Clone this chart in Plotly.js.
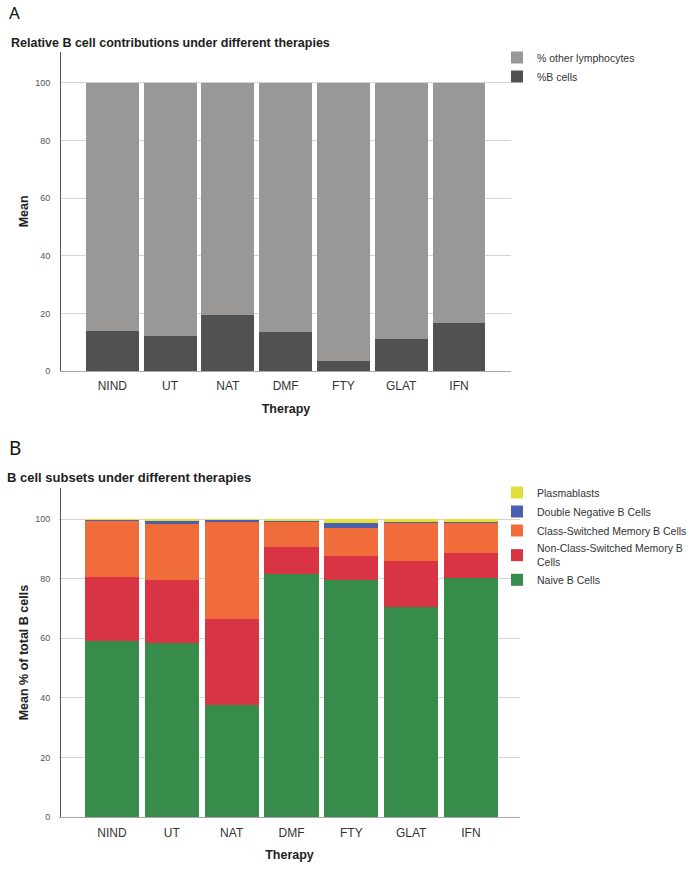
<!DOCTYPE html>
<html>
<head>
<meta charset="utf-8">
<script src="https://cdn.plot.ly/plotly-3.0.1.min.js"></script>
<style>html,body{margin:0;padding:0;background:#fff;}#chart{width:700px;height:872px;}</style>
</head>
<body>
<div id="chart"></div>
<script>
// ---- data ----
const therapies = ['NIND', 'UT', 'NAT', 'DMF', 'FTY', 'GLAT', 'IFN'];
const pctBCells = [13.9, 12.1, 19.5, 13.6, 3.5, 11.0, 16.7];
const pctOtherLymphocytes = [86.1, 87.9, 80.5, 86.4, 96.5, 89.0, 83.3];

const naiveB = [59.2, 58.3, 37.6, 81.5, 79.6, 70.4, 80.2];
const nonClassSwitchedMemB = [21.2, 21.3, 28.9, 9.2, 8.1, 15.6, 8.5];
const classSwitchedMemB = [18.9, 18.8, 32.5, 8.2, 9.4, 12.8, 10.1];
const doubleNegativeB = [0.3, 0.9, 0.8, 0.4, 1.7, 0.3, 0.3];
const plasmablasts = [0.4, 0.7, 0.2, 0.7, 1.2, 0.9, 0.9];

const yTicks = [0, 20, 40, 60, 80, 100];

// ---- traces ----
const FONT = 'Liberation Sans, Arial, sans-serif';
const wTop = 0.915, wBot = 0.905;
const traces = [
  {type: 'bar', name: '%B cells', x: therapies, y: pctBCells, xaxis: 'x', yaxis: 'y',
   marker: {color: '#515151'}, width: wTop, legend: 'legend', hoverinfo: 'y'},
  {type: 'bar', name: '% other lymphocytes', x: therapies, y: pctOtherLymphocytes, xaxis: 'x', yaxis: 'y',
   marker: {color: '#9a9797'}, width: wTop, legend: 'legend', hoverinfo: 'y'},

  {type: 'bar', name: 'Naive B Cells', x: therapies, y: naiveB, xaxis: 'x2', yaxis: 'y2',
   marker: {color: '#388c4b'}, width: wBot, legend: 'legend2'},
  {type: 'bar', name: 'Non-Class-Switched Memory B<br>Cells', x: therapies, y: nonClassSwitchedMemB, xaxis: 'x2', yaxis: 'y2',
   marker: {color: '#d93444'}, width: wBot, legend: 'legend2'},
  {type: 'bar', name: 'Class-Switched Memory B Cells', x: therapies, y: classSwitchedMemB, xaxis: 'x2', yaxis: 'y2',
   marker: {color: '#f06c3b'}, width: wBot, legend: 'legend2'},
  {type: 'bar', name: 'Double Negative B Cells', x: therapies, y: doubleNegativeB, xaxis: 'x2', yaxis: 'y2',
   marker: {color: '#4a5fae'}, width: wBot, legend: 'legend2'},
  {type: 'bar', name: 'Plasmablasts', x: therapies, y: plasmablasts, xaxis: 'x2', yaxis: 'y2',
   marker: {color: '#e3df3a'}, width: wBot, legend: 'legend2'}
];

const W = 700, H = 872;
const px = v => v / W;
const py = v => 1 - v / H;

function yAxis(domain, range, titleText, standoff) {
  return {
    domain: domain, range: range, tickvals: yTicks, ticktext: yTicks.map(String),
    showgrid: true, gridcolor: '#d4d4d4', gridwidth: 1, zeroline: false,
    showline: true, linecolor: '#555', linewidth: 1,
    ticks: 'outside', ticklen: 8, tickcolor: 'rgba(0,0,0,0)',
    tickfont: {family: FONT, size: 9, color: '#555'},
    title: {text: titleText, font: {family: FONT, size: 12.5, color: '#222', weight: 'bold'}, standoff: standoff},
    fixedrange: true
  };
}
function xAxis(domain, range, anchor) {
  return {
    domain: domain, range: range, anchor: anchor, type: 'category',
    showgrid: false, zeroline: false, showline: true, linecolor: '#a8a8a8', linewidth: 1,
    ticks: 'outside', ticklen: 4, tickcolor: 'rgba(0,0,0,0)',
    tickfont: {family: FONT, size: 12, color: '#333'},
    title: {text: 'Therapy', font: {family: FONT, size: 12.5, color: '#222', weight: 'bold'}, standoff: 11},
    fixedrange: true
  };
}

const layout = {
  width: W, height: H,
  margin: {l: 0, r: 0, t: 0, b: 0},
  paper_bgcolor: '#fff', plot_bgcolor: '#fff',
  barmode: 'stack',
  font: {family: FONT, color: '#333'},
  xaxis: xAxis([px(61), px(511)], [-0.888, 6.9], 'y'),
  yaxis: yAxis([py(371), py(51.7)], [0, 110.8], 'Mean', 3),
  xaxis2: xAxis([px(59), px(520)], [-0.886, 6.82], 'y2'),
  yaxis2: yAxis([py(817.3), py(488)], [0, 110.4], 'Mean % of total B cells', 3),
  legend: {x: px(497), y: py(43), xanchor: 'left', yanchor: 'top', traceorder: 'reversed',
           font: {family: FONT, size: 10.5, color: '#333'}, bgcolor: 'rgba(255,255,255,0)', borderwidth: 0},
  legend2: {x: px(497), y: py(478), xanchor: 'left', yanchor: 'top', traceorder: 'reversed',
            font: {family: FONT, size: 10.5, color: '#333'}, bgcolor: 'rgba(255,255,255,0)', borderwidth: 0},
  annotations: [
    {text: 'A', xref: 'paper', yref: 'paper', x: px(7), y: py(-1), xanchor: 'left', yanchor: 'top',
     showarrow: false, font: {family: 'Noto Sans, sans-serif', size: 17, color: '#111'}},
    {text: 'Relative B cell contributions under different therapies', xref: 'paper', yref: 'paper',
     x: px(9), y: py(43), xanchor: 'left', yanchor: 'middle', showarrow: false,
     font: {family: FONT, size: 12.5, color: '#222', weight: 'bold'}},
    {text: 'B', xref: 'paper', yref: 'paper', x: px(7), y: py(433), xanchor: 'left', yanchor: 'top',
     showarrow: false, font: {family: 'Noto Sans, sans-serif', size: 19, color: '#111'}},
    {text: 'B cell subsets under different therapies', xref: 'paper', yref: 'paper',
     x: px(5), y: py(477), xanchor: 'left', yanchor: 'middle', showarrow: false,
     font: {family: FONT, size: 13, color: '#222', weight: 'bold'}}
  ]
};

Plotly.newPlot('chart', traces, layout, {displayModeBar: false, staticPlot: true});
</script>
</body>
</html>
